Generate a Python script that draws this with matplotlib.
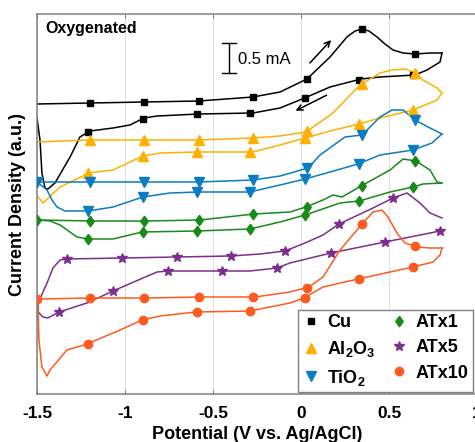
import numpy as np
import matplotlib
matplotlib.use("Agg")
import matplotlib.pyplot as plt
from matplotlib.lines import Line2D

plt.rcParams['font.family'] = 'Liberation Sans'
plt.rcParams['axes.unicode_minus'] = False
plt.rcParams['mathtext.fontset'] = 'custom'
plt.rcParams['mathtext.rm'] = 'Liberation Sans:bold'
plt.rcParams['mathtext.bf'] = 'Liberation Sans:bold'

# CV loops, potential (V vs Ag/AgCl) and stacked current density (a.u., offset per sample)
# forward = anodic sweep -1.5 -> 0.8 V, reverse = back to -1.5 V

cu_fwd_v = [-1.5, -1.199, -0.892, -0.580, -0.273, -0.119, 0.034, 0.165, 0.261, 0.307, 0.347, 0.386, 0.432, 0.477, 0.523, 0.580, 0.648, 0.733, 0.801]
cu_fwd_i = [29.0, 29.1, 29.2, 29.3, 29.7, 30.2, 31.5, 33.7, 35.7, 36.3, 36.5, 36.3, 35.7, 35.0, 34.4, 34.1, 34.0, 34.1, 34.1]
cu_rev_v = [0.801, 0.790, 0.716, 0.648, 0.449, 0.341, 0.165, 0.034, -0.119, -0.273, -0.580, -0.818, -0.892, -0.972, -1.068, -1.199, -1.256, -1.312, -1.398, -1.438, -1.455, -1.472, -1.483, -1.5]
cu_rev_i = [34.1, 33.2, 32.4, 31.9, 31.7, 31.5, 30.7, 29.7, 28.6, 28.1, 28.0, 27.8, 27.6, 26.9, 26.6, 26.3, 25.7, 23.7, 21.1, 20.5, 20.6, 22.1, 25.4, 27.6]

al_fwd_v = [-1.5, -1.205, -0.892, -0.580, -0.273, -0.119, 0.028, 0.182, 0.335, 0.449, 0.517, 0.591, 0.648, 0.693, 0.773, 0.801]
al_fwd_i = [25.2, 25.4, 25.4, 25.4, 25.6, 25.8, 26.2, 28.1, 30.9, 32.1, 32.4, 32.5, 32.1, 31.4, 30.6, 30.1]
al_rev_v = [0.801, 0.773, 0.636, 0.449, 0.330, 0.165, 0.023, -0.119, -0.273, -0.585, -0.801, -0.898, -1.068, -1.205, -1.369, -1.466, -1.494]
al_rev_i = [30.1, 29.4, 28.4, 27.6, 27.0, 26.3, 25.6, 24.9, 24.2, 24.2, 24.1, 23.8, 22.4, 22.1, 20.7, 19.1, 19.7]

ti_fwd_v = [-1.5, -1.182, -0.886, -0.580, -0.273, -0.119, 0.040, 0.108, 0.250, 0.347, 0.449, 0.517, 0.580, 0.648, 0.722, 0.801]
ti_fwd_i = [21.2, 21.2, 21.2, 21.2, 21.4, 21.8, 22.6, 23.9, 25.7, 25.9, 27.7, 28.4, 28.4, 27.4, 26.7, 26.0]
ti_rev_v = [0.801, 0.744, 0.636, 0.449, 0.324, 0.165, 0.023, -0.119, -0.290, -0.585, -0.744, -0.898, -1.068, -1.210, -1.341, -1.386, -1.415, -1.443, -1.5]
ti_rev_i = [26.0, 25.1, 24.4, 23.9, 23.0, 22.2, 21.5, 20.9, 20.2, 20.2, 20.1, 19.7, 18.7, 18.3, 18.3, 18.7, 19.4, 20.4, 21.2]

at1_fwd_v = [-1.494, -1.182, -0.881, -0.574, -0.267, -0.063, 0.028, 0.125, 0.182, 0.233, 0.352, 0.506, 0.580, 0.653, 0.733, 0.773, 0.801]
at1_fwd_i = [17.4, 17.3, 17.3, 17.4, 18.0, 18.2, 18.7, 19.4, 19.9, 19.7, 20.9, 22.4, 23.5, 23.3, 22.4, 21.2, 21.1]
at1_rev_v = [0.801, 0.693, 0.636, 0.506, 0.330, 0.222, 0.023, -0.119, -0.290, -0.591, -0.903, -1.068, -1.210, -1.273, -1.369, -1.426, -1.494]
at1_rev_i = [21.1, 21.0, 20.7, 20.2, 19.3, 19.1, 17.9, 17.2, 16.5, 16.3, 16.2, 15.5, 15.5, 15.7, 16.9, 17.3, 17.4]

at5_fwd_v = [-1.494, -1.443, -1.409, -1.369, -1.330, -1.017, -0.705, -0.398, -0.233, -0.091, 0.023, 0.125, 0.216, 0.409, 0.523, 0.602, 0.676, 0.733, 0.801]
at5_fwd_i = [9.1, 11.1, 12.6, 13.4, 13.5, 13.6, 13.7, 13.8, 14.0, 14.3, 15.1, 15.9, 17.0, 18.6, 19.6, 20.1, 19.1, 18.1, 17.6]
at5_rev_v = [0.790, 0.477, 0.170, -0.063, -0.136, -0.290, -0.449, -0.756, -0.818, -0.898, -1.068, -1.216, -1.375, -1.438, -1.466, -1.494, -1.494]
at5_rev_i = [16.3, 15.2, 14.1, 13.1, 12.6, 12.3, 12.3, 12.3, 12.2, 11.6, 10.3, 9.1, 8.2, 7.6, 7.7, 8.2, 9.1]

at10_fwd_v = [-1.494, -1.182, -0.875, -0.574, -0.261, -0.063, 0.045, 0.125, 0.222, 0.318, 0.352, 0.409, 0.460, 0.494, 0.545, 0.591, 0.659, 0.733, 0.801]
at10_fwd_i = [9.5, 9.6, 9.6, 9.7, 9.7, 10.2, 10.7, 11.7, 14.4, 16.4, 17.1, 18.2, 18.4, 17.7, 16.1, 15.1, 14.7, 14.6, 14.6]
at10_rev_v = [0.801, 0.790, 0.750, 0.636, 0.506, 0.324, 0.125, 0.017, -0.063, -0.290, -0.597, -0.801, -0.903, -1.028, -1.216, -1.330, -1.426, -1.443, -1.472, -1.489, -1.494, -1.494]
at10_rev_i = [14.6, 13.9, 13.2, 12.7, 12.2, 11.5, 10.7, 9.6, 9.1, 8.3, 8.2, 7.8, 7.4, 6.4, 5.0, 4.4, 2.4, 1.8, 2.7, 5.4, 8.4, 9.5]

# potentials where the symbols sit on each sweep
mk_fwd = [-1.199, -0.89, -0.58, -0.273, 0.034, 0.345, 0.65]
mk_fwd_full = [-1.5] + mk_fwd
mk_rev = [0.636, 0.33, 0.02, -0.287, -0.59, -0.9, -1.21]
mk_at5_fwd = [-1.33, -1.017, -0.705, -0.398, -0.091, 0.216, 0.523]
mk_at5_rev = [0.79, 0.477, 0.17, -0.136, -0.449, -0.756, -1.068, -1.375]

# slightly tall diamond for ATx1
tall_diamond = [(0, 1), (0.72, 0), (0, -1), (-0.72, 0), (0, 1)]

samples = [
    ('Cu', 'k', 's', 4.5, cu_fwd_v, cu_fwd_i, cu_rev_v, cu_rev_i, mk_fwd, mk_rev),
    (r'Al$_2$O$_3$', '#FFB000', '^', 6.5, al_fwd_v, al_fwd_i, al_rev_v, al_rev_i, mk_fwd, mk_rev),
    (r'TiO$_2$', '#0A7CC4', 'v', 6.5, ti_fwd_v, ti_fwd_i, ti_rev_v, ti_rev_i, mk_fwd_full, mk_rev),
    ('ATx1', '#178A17', tall_diamond, 7.5, at1_fwd_v, at1_fwd_i, at1_rev_v, at1_rev_i, mk_fwd_full, mk_rev),
    ('ATx5', '#7E2F8E', '*', 7.5, at5_fwd_v, at5_fwd_i, at5_rev_v, at5_rev_i, mk_at5_fwd, mk_at5_rev),
    ('ATx10', '#FF5A1F', 'o', 6.0, at10_fwd_v, at10_fwd_i, at10_rev_v, at10_rev_i, mk_fwd_full, mk_rev),
]

fig = plt.figure(figsize=(4.75, 4.42), dpi=100)
ax = fig.add_axes([37 / 475, 1 - 394 / 442, 440 / 475, 380 / 442])

handles = []
for name, col, mk, ms, fv, fi, rv, ri, mf, mr in samples:
    ax.plot(fv, fi, color=col, lw=1.1, zorder=2)
    ax.plot(rv, ri, color=col, lw=1.1, zorder=2)
    # symbols follow the sweep they belong to
    yf = np.interp(mf, fv, fi)
    yr = np.interp(mr, rv[::-1], ri[::-1])
    ax.plot(mf, yf, ls='none', marker=mk, ms=ms, color=col, mec=col, zorder=3)
    ax.plot(mr, yr, ls='none', marker=mk, ms=ms, color=col, mec=col, zorder=3)
    handles.append(Line2D([], [], ls='none', marker=mk, ms=ms, color=col, mec=col, label=name))

ax.set_xlim(-1.5, 1.0)
ax.set_ylim(0, 38)
ax.set_xticks([-1.5, -1, -0.5, 0, 0.5, 1])
ax.set_xticklabels(['-1.5', '-1', '-0.5', '0', '0.5', '1'], fontweight='bold', fontsize=12.5)
ax.set_yticks([])
ax.tick_params(axis='x', direction='in', top=True, length=3, color='#808080', pad=9)
ax.grid(axis='x', color='#e2e2e2', lw=0.8)
ax.set_axisbelow(True)
for s in ax.spines.values():
    s.set_color('#808080')
    s.set_linewidth(1.1)

ax.set_xlabel('Potential (V vs. Ag/AgCl)', fontweight='bold', fontsize=13, labelpad=3)
ax.set_ylabel('Current Density (a.u.)', fontweight='bold', fontsize=13, labelpad=8)

ax.text(-1.455, 36.6, 'Oxygenated', fontweight='bold', fontsize=11.5, va='center', ha='left')

# scale bar
ax.plot([-0.409, -0.409], [32.1, 35.1], color='k', lw=1.0)
ax.plot([-0.45, -0.368], [35.1, 35.1], color='k', lw=1.0)
ax.plot([-0.45, -0.368], [32.1, 32.1], color='k', lw=1.0)
ax.text(-0.36, 33.4, '0.5 mA', fontsize=12, va='center', ha='left')

# sweep direction arrows
ax.annotate('', xy=(0.182, 35.6), xytext=(0.040, 32.9),
            arrowprops=dict(arrowstyle='->', lw=1.1, color='k'))
ax.annotate('', xy=(-0.045, 28.2), xytext=(0.159, 30.0),
            arrowprops=dict(arrowstyle='->', lw=1.1, color='k'))

leg = ax.legend(handles=handles, ncol=2, loc='lower right', bbox_to_anchor=(0.991, 0.005),
                borderaxespad=0, prop={'weight': 'bold', 'size': 13}, handlelength=1.0,
                handletextpad=0.4, columnspacing=0.8, labelspacing=0.45, borderpad=0.25,
                fancybox=False, edgecolor='#808080', framealpha=1)
leg.get_frame().set_linewidth(1.0)

fig.savefig('out.png', dpi=100)
